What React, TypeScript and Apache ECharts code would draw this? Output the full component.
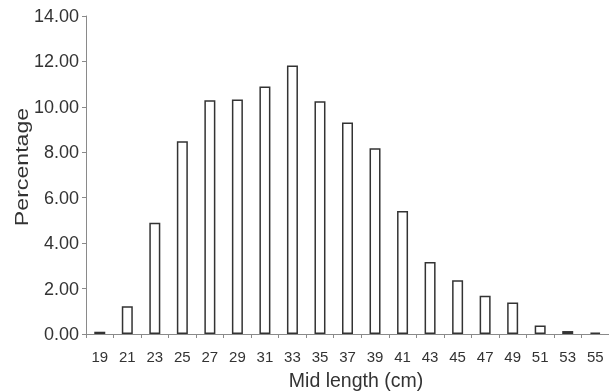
import React, { useEffect, useRef } from "react";
import * as echarts from "echarts";

const categories = ["19", "21", "23", "25", "27", "29", "31", "33", "35", "37", "39", "41", "43", "45", "47", "49", "51", "53", "55"];
const percentages = [0.1, 1.22, 4.9, 8.49, 10.29, 10.32, 10.9, 11.82, 10.25, 9.31, 8.18, 5.41, 3.17, 2.37, 1.68, 1.39, 0.37, 0.13, 0.06];
const yTicks = [0, 2, 4, 6, 8, 10, 12, 14];
const yTitle = "Percentage";
const xTitle = "Mid length (cm)";

export default function App() {
  const ref = useRef<HTMLDivElement>(null);
  useEffect(() => {
    if (!ref.current) return;
    const chart = echarts.init(ref.current, null, { renderer: "svg" });
    const font = "'Liberation Sans', Arial, sans-serif";
    chart.setOption({
      animation: false,
      grid: { left: 86, right: 0, top: 16, bottom: 58, containLabel: false },
      xAxis: {
        type: "category",
        data: categories,
        boundaryGap: true,
        axisLine: { show: true, lineStyle: { color: "#8a8a8a", width: 1 } },
        axisTick: { show: true, inside: false, length: 4, alignWithLabel: false, lineStyle: { color: "#8a8a8a" } },
        axisLabel: { color: "#333", fontSize: 15, fontFamily: font, margin: 15, interval: 0 },
        splitLine: { show: false },
      },
      yAxis: {
        type: "value",
        min: yTicks[0],
        max: yTicks[yTicks.length - 1],
        interval: 2,
        axisLine: { show: true, lineStyle: { color: "#8a8a8a", width: 1 } },
        axisTick: { show: true, inside: false, length: 4, lineStyle: { color: "#8a8a8a" } },
        axisLabel: { color: "#333", fontSize: 18, fontFamily: font, margin: 7, formatter: (v: number) => v.toFixed(2) },
        splitLine: { show: false },
      },
      graphic: [
        {
          type: "text",
          x: 356,
          y: 380,
          style: { text: xTitle, fill: "#333", fontSize: 19.5, fontFamily: font, align: "center", verticalAlign: "middle" },
        },
        {
          type: "text",
          x: 21,
          y: 167,
          rotation: Math.PI / 2,
          scaleX: 1.25,
          style: { text: yTitle, fill: "#333", fontSize: 18.5, fontFamily: font, align: "center", verticalAlign: "middle" },
        },
      ],
      series: [
        {
          type: "bar",
          data: percentages,
          barWidth: 11,
          itemStyle: { color: "#ffffff", borderColor: "#333", borderWidth: 1.5 },
        },
      ],
    });
    return () => chart.dispose();
  }, []);
  return <div ref={ref} style={{ position: "fixed", left: 0, top: 0, width: 609, height: 392 }} />;
}
